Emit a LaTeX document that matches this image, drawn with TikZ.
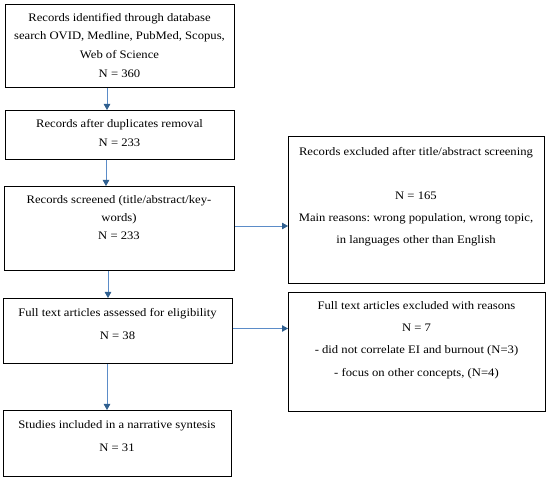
\documentclass[tikz,border=0pt]{standalone}
\usepackage{fontspec}
\setmainfont{Liberation Serif}[FakeStretch=1.1]
\usetikzlibrary{arrows.meta}
\definecolor{arrline}{HTML}{5B8CC8}
\definecolor{arrtip}{HTML}{2F5F8F}
\tikzset{
  box/.style={draw=black, line width=0.9pt, inner sep=0pt, anchor=north west},
  txt/.style={align=center, inner sep=0pt, anchor=north},
  arr/.style={draw=arrline, line width=0.9pt, -{Triangle[length=6pt,width=6.5pt,color=arrtip]}}
}
\newcommand{\fs}[1]{\frenchspacing\fontsize{11.5}{#1}\selectfont}
\begin{document}
\begin{tikzpicture}[x=1pt,y=-1pt]
\useasboundingbox (0,0) rectangle (550,481);
% boxes
\node[box, minimum width=229pt, minimum height=83pt] (b1) at (5,4) {};
\node[box, minimum width=229pt, minimum height=49pt] (b2) at (5,110) {};
\node[box, minimum width=230pt, minimum height=84pt] (b3) at (4,186) {};
\node[box, minimum width=229pt, minimum height=65pt] (b4) at (3,298) {};
\node[box, minimum width=228pt, minimum height=66pt] (b5) at (3,410) {};
\node[box, minimum width=256pt, minimum height=147pt] (r1) at (288,136) {};
\node[box, minimum width=257pt, minimum height=119pt] (r2) at (288,292) {};
% texts
\node[txt, font=\fs{18.7}] (t1) at (119.5,13) {Records identified through database\\search OVID, Medline, PubMed, Scopus,\\Web of Science\\N = 360};
\node[txt, font=\fs{19}] (t2) at (119.5,119) {Records after duplicates removal\\N = 233};
\node[txt, font=\fs{18}] (t3) at (119,195) {Records screened (title/abstract/key-\\words)\\N = 233};
\node[txt, font=\fs{23}] (t4) at (117.5,308) {Full text articles assessed for eligibility\\N = 38};
\node[txt, font=\fs{23}] (t5) at (117,420) {Studies included in a narrative syntesis\\N = 31};
\node[txt, font=\fs{22}] (t6) at (416,147) {Records excluded after title/abstract screening\\[22pt]N = 165\\Main reasons: wrong population, wrong topic,\\in languages other than English};
\node[txt, font=\fs{22.3}] (t7) at (416.5,301) {Full text articles excluded with reasons\\N = 7\\- did not correlate EI and burnout (N=3)\\- focus on other concepts, (N=4)};
% connectors
\coordinate (c1) at (107,0);
\coordinate (c2) at (106,0);
\coordinate (c3) at (108,0);
\coordinate (c4) at (107,0);
\coordinate (h1) at (0,226);
\coordinate (h2) at (0,328.5);
\draw[arr] (c1 |- b1.south) -- (c1 |- b2.north);
\draw[arr] (c2 |- b2.south) -- (c2 |- b3.north);
\draw[arr] (c3 |- b3.south) -- (c3 |- b4.north);
\draw[arr] (c4 |- b4.south) -- (c4 |- b5.north);
\draw[arr] (h1 -| b3.east) -- (h1 -| r1.west);
\draw[arr] (h2 -| b4.east) -- (h2 -| r2.west);
\end{tikzpicture}
\end{document}
